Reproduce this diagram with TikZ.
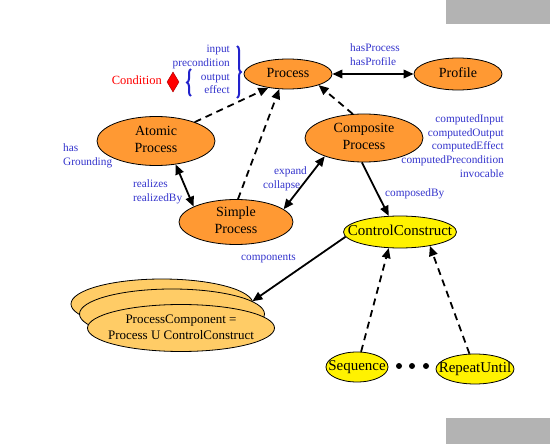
\documentclass[tikz,border=0pt]{standalone}
\usepackage{fontspec}
\setmainfont{Liberation Serif}
\usetikzlibrary{shapes.geometric,arrows.meta,decorations.pathreplacing}
\definecolor{procorange}{HTML}{FF9933}
\definecolor{pcfill}{HTML}{FFCC66}
\definecolor{lblblue}{HTML}{3333CC}
\definecolor{braceblue}{HTML}{2222CC}
\definecolor{graybox}{HTML}{B3B3B3}
\newcommand{\ctext}[1]{\hbox to 0pt{\hss\vbox to 0pt{\vss\hbox{\begin{tabular}{@{}c@{}}#1\end{tabular}}\vss}\hss}}
\begin{document}
\begin{tikzpicture}[x=1pt,y=-1pt,
  ell/.style={ellipse,draw=black,line width=0.8pt,inner sep=0pt},
  orangenode/.style={ell,fill=procorange,font=\fontsize{14}{17}\selectfont},
  yelnode/.style={ell,fill=yellow,font=\fontsize{15}{17}\selectfont},
  pcnode/.style={ell,fill=pcfill,font=\fontsize{13}{16}\selectfont},
  lbl/.style={text=lblblue,font=\fontsize{11.3}{13}\selectfont,inner sep=0pt},
  tip/.style={-{Triangle[length=10pt,width=8.5pt]}},
  solidarr/.style={line width=1.8pt,tip},
  bothsolid/.style={line width=1.8pt,{Triangle[length=10pt,width=8.5pt]}-{Triangle[length=10pt,width=8.5pt]}},
  dasharr/.style={line width=1.8pt,tip,dash pattern=on 7pt off 5pt},
  dotnode/.style={circle,fill=black,inner sep=0pt,minimum size=6pt},
  bracestyle/.style={draw=braceblue,line width=2pt,decorate,decoration={brace,amplitude=4pt}}
]
\useasboundingbox (0,0) rectangle (550,444);
\fill[graybox] (446,0) rectangle (550,24);
\fill[graybox] (446,418) rectangle (550,444);

% nodes
\node[orangenode,minimum width=88pt,minimum height=30pt] (process) at (288,74) {\ctext{Process}};
\node[orangenode,minimum width=88pt,minimum height=32pt] (profile) at (458,74) {\ctext{Profile}};
\node[orangenode,minimum width=118pt,minimum height=49pt] (atomic) at (156,141) {\ctext{Atomic\\Process}};
\node[orangenode,minimum width=118pt,minimum height=48pt] (composite) at (364,138) {\ctext{Composite\\Process}};
\node[orangenode,minimum width=114pt,minimum height=45pt] (simple) at (236,222) {\ctext{Simple\\Process}};
\node[yelnode,minimum width=113pt,minimum height=32pt] (cc) at (400,232) {\ctext{ControlConstruct}};
\node[yelnode,minimum width=62pt,minimum height=30pt] (seq) at (357,367) {\ctext{Sequence}};
\node[yelnode,minimum width=78pt,minimum height=30pt] (repeat) at (475,369) {\ctext{RepeatUntil}};

\node[pcnode,minimum width=182pt,minimum height=50pt] (pcback) at (162,304) {};
\node[pcnode,minimum width=185pt,minimum height=50pt] (pcmid) at (172,314) {};
\node[pcnode,minimum width=187pt,minimum height=47pt] (pc) at (181,328) {\ctext{ProcessComponent =\\Process U ControlConstruct}};

\node[dotnode] (d1) at (399,366) {};
\node[dotnode] (d2) at (412,366) {};
\node[dotnode] (d3) at (426,366) {};

% condition
\node[diamond,fill=red,draw=red!70!black,line width=0.5pt,inner sep=0pt,minimum width=12pt,minimum height=20pt] (cond) at (173,82) {};
\node[anchor=mid east,inner sep=0pt,text=red,font=\fontsize{12.5}{14}\selectfont] (condlbl) at (162,82) {Condition};

% labels
\node[lbl,anchor=mid east] (lin) at (230,50) {input};
\node[lbl,anchor=mid east] (lpre) at (230,64) {precondition};
\node[lbl,anchor=mid east] (lout) at (230,78) {output};
\node[lbl,anchor=mid east] (leff) at (230,91) {effect};
\draw[bracestyle] (237,46) -- (237,98);
\draw[bracestyle] (191,96) -- (191,69);

\node[lbl,anchor=mid west] (lhp) at (350,49) {hasProcess};
\node[lbl,anchor=mid west] (lhpr) at (350,63) {hasProfile};

\node[lbl,anchor=mid east] (lc1) at (504,120) {computedInput};
\node[lbl,anchor=mid east] (lc2) at (504,134) {computedOutput};
\node[lbl,anchor=mid east] (lc3) at (504,147) {computedEffect};
\node[lbl,anchor=mid east] (lc4) at (504,161) {computedPrecondition};
\node[lbl,anchor=mid east] (lc5) at (504,175) {invocable};

\node[lbl,anchor=mid west] (lhas) at (63,149) {has};
\node[lbl,anchor=mid west] (lgr) at (63,163) {Grounding};
\node[lbl,anchor=mid west] (lre) at (133,185) {realizes};
\node[lbl,anchor=mid west] (lreb) at (133,199) {realizedBy};
\node[lbl,anchor=mid west] (lexp) at (274,172) {expand};
\node[lbl,anchor=mid west] (lcol) at (263,186) {collapse};
\node[lbl,anchor=mid west] (lcomp) at (385,194) {composedBy};
\node[lbl,anchor=mid west] (lcomps) at (241,258) {components};

% connectors
\draw[bothsolid] (process.east) -- (profile.west);
\draw[dasharr] (atomic.26) -- (process.215);
\draw[dasharr] (simple.85) -- (process.240);
\draw[dasharr] (composite.115) -- (process.-20);
\draw[bothsolid] (atomic.-50) -- (simple.160);
\draw[bothsolid] (simple.15) -- (composite.205);
\draw[solidarr] (composite.265) -- (cc.125);
\draw[solidarr] (cc.185) -- (pcmid.9);
\draw[dasharr] (seq.75) -- (cc.235);
\draw[dasharr] (repeat.110) -- (cc.-25);
\end{tikzpicture}
\end{document}
